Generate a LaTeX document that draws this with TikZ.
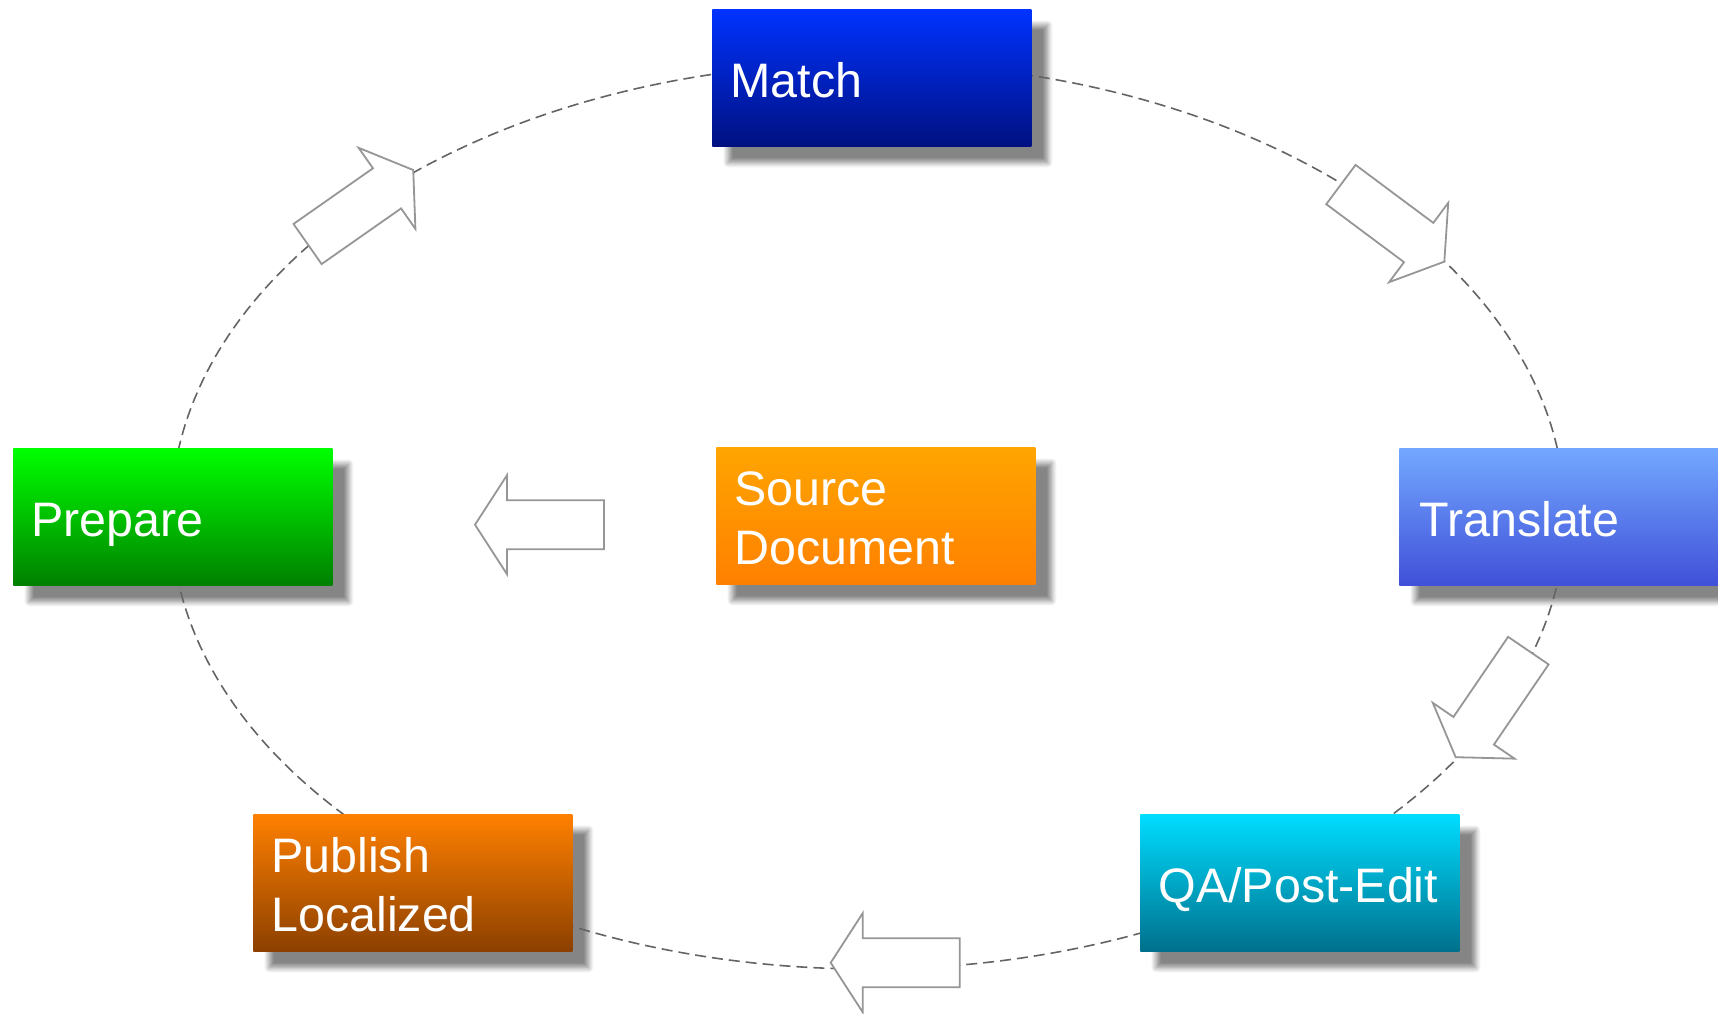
\documentclass[tikz,border=0pt]{standalone}
\usepackage{fontspec}
\setmainfont{Liberation Sans}
\usetikzlibrary{shadows.blur}
\pgfdeclarelayer{shadowlayer}
\pgfdeclarelayer{ringlayer}
\pgfsetlayers{shadowlayer,ringlayer,main}

\definecolor{matchTop}{RGB}{0,51,255}
\definecolor{matchBot}{RGB}{0,16,128}
\definecolor{prepTop}{RGB}{0,255,0}
\definecolor{prepBot}{RGB}{0,128,0}
\definecolor{transTop}{RGB}{115,168,255}
\definecolor{transBot}{RGB}{64,80,216}
\definecolor{srcTop}{RGB}{255,165,0}
\definecolor{srcBot}{RGB}{255,128,0}
\definecolor{pubTop}{RGB}{255,128,0}
\definecolor{pubBot}{RGB}{140,64,0}
\definecolor{qaTop}{RGB}{0,221,255}
\definecolor{qaBot}{RGB}{0,112,140}
\definecolor{ringgray}{RGB}{100,100,100}
\definecolor{arrowgray}{RGB}{150,150,150}

\begin{document}
\begin{tikzpicture}[x=0.5pt,y=-0.5pt,
  box/.style={rectangle, draw=none, minimum width=159.5pt, minimum height=68.5pt, inner sep=0pt, anchor=north west},
  boxtext/.style={anchor=base west, inner sep=0pt, text=white, font=\fontsize{24.2}{29.5}\selectfont},
  ring/.style={draw=ringgray, line width=0.8pt, dash pattern=on 5.5pt off 3pt},
  arrowline/.style={draw=arrowgray, fill=white, line width=0.9pt, line join=miter},
  shadowbox/.style={blur shadow={shadow xshift=8pt, shadow yshift=-8pt, shadow blur radius=2.5pt, shadow blur steps=10, shadow opacity=48}},
  blockarrow/.pic={\path[arrowline] (64.5,0) -- (32.5,49.5) -- (32.5,24.5) -- (-64.5,24.5) -- (-64.5,-24.5) -- (32.5,-24.5) -- (32.5,-49.5) -- cycle;}
]
\useasboundingbox (0,0) rectangle (1718,1013);

% boxes
\node[box, top color=matchTop, bottom color=matchBot] (match) at (712,9) {};
\node[box, top color=prepTop, bottom color=prepBot] (prep) at (13,448) {};
\node[box, top color=transTop, bottom color=transBot] (trans) at (1399,448) {};
\node[box, top color=srcTop, bottom color=srcBot] (src) at (716,447) {};
\node[box, top color=pubTop, bottom color=pubBot] (pub) at (253,814) {};
\node[box, top color=qaTop, bottom color=qaBot] (qa) at (1140,814) {};

% texts
\node[boxtext] (matchT) at ([shift={(18,88)}]match.north west) {Match};
\node[boxtext] (prepT) at ([shift={(18,88)}]prep.north west) {Prepare};
\node[boxtext] (transT) at ([shift={(20,88)}]trans.north west) {Translate};
\node[boxtext] (qaT) at ([shift={(18,88)}]qa.north west) {QA/Post-Edit};
\node[boxtext] (srcT) at ([shift={(18,58.5)}]src.north west) {\parbox[t]{150pt}{Source\\Document}};
\node[boxtext] (pubT) at ([shift={(18,58.5)}]pub.north west) {\parbox[t]{150pt}{Publish\\Localized}};

% shadows
\begin{pgfonlayer}{shadowlayer}
  \foreach \n in {match,prep,trans,src,pub,qa}
    \path[shadowbox] (\n.north west) rectangle (\n.south east);
\end{pgfonlayer}

% dashed cycle
\coordinate (ctr) at (868,516);
\begin{pgfonlayer}{ringlayer}
  \draw[ring] (ctr) ellipse [x radius=348.5pt, y radius=226.5pt];
\end{pgfonlayer}

% block arrows
\coordinate (arrA) at (360.4,207);
\coordinate (arrB) at (1392.6,223.1);
\coordinate (arrC) at (1492,703.9);
\coordinate (arrD) at (895.2,962.7);
\coordinate (arrE) at (539.5,524.7);
\pic[rotate=35] at (arrA) {blockarrow};
\pic[rotate=-36.7] at (arrB) {blockarrow};
\pic[rotate=235.7] at (arrC) {blockarrow};
\pic[rotate=180] at (arrD) {blockarrow};
\pic[rotate=180] at (arrE) {blockarrow};
\end{tikzpicture}
\end{document}
